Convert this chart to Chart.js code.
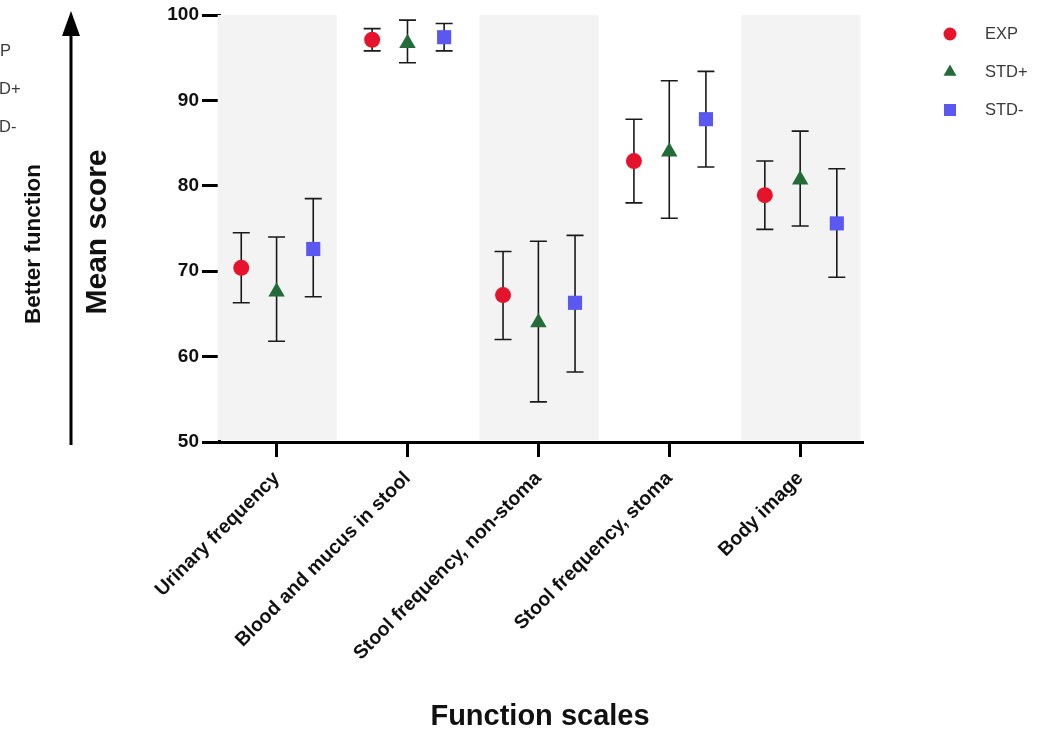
<!DOCTYPE html>
<html>
<head>
<meta charset="utf-8">
<script src="https://cdn.jsdelivr.net/npm/chart.js@4.4.1/dist/chart.umd.min.js"></script>
<style>
  body { margin: 0; background: #fff; }
  #wrap { width: 1053px; height: 730px; position: relative; }
</style>
</head>
<body>
<div id="wrap"><canvas id="myChart"></canvas></div>
<script>
const labels = ["Urinary frequency", "Blood and mucus in stool", "Stool frequency, non-stoma", "Stool frequency, stoma", "Body image"];
const yTicks = [50, 60, 70, 80, 90, 100];

const expMean = [70.4, 97.1, 67.2, 82.9, 78.9];
const expLow = [66.3, 95.8, 62.0, 78.0, 74.9];
const expHigh = [74.5, 98.4, 72.3, 87.8, 82.9];

const stdPlusMean = [67.6, 96.7, 64.0, 84.0, 80.7];
const stdPlusLow = [61.8, 94.4, 54.7, 76.2, 75.3];
const stdPlusHigh = [74.0, 99.4, 73.5, 92.3, 86.4];

const stdMinusMean = [72.6, 97.4, 66.3, 87.8, 75.6];
const stdMinusLow = [67.0, 95.8, 58.2, 82.2, 69.3];
const stdMinusHigh = [78.5, 99.0, 74.2, 93.4, 82.0];

const seriesNames = ["EXP", "STD+", "STD-"];
const seriesColors = ["#e5142c", "#236b38", "#5b58f2"];
const seriesStyles = ["circle", "triangle", "rect"];
const groupOffset = [-0.27, 0, 0.28];
const FONT = "'Liberation Sans', Arial, sans-serif";

function toPoints(values, k) {
  return values.map(function (v, i) {
    return { x: i + groupOffset[k], y: v };
  });
}

const errors = [
  { low: expLow, high: expHigh },
  { low: stdPlusLow, high: stdPlusHigh },
  { low: stdMinusLow, high: stdMinusHigh }
];

// grey bands behind every other category + error bars
const bandPlugin = {
  id: "bands",
  beforeDatasetsDraw: function (chart) {
    const ctx = chart.ctx;
    const x = chart.scales.x;
    const area = chart.chartArea;
    ctx.save();
    ctx.fillStyle = "#f3f3f3";
    for (let i = 0; i < labels.length; i += 2) {
      const l = x.getPixelForValue(i - 0.45);
      const r = x.getPixelForValue(i + 0.46);
      ctx.fillRect(l, area.top, r - l, area.bottom - area.top - 2);
    }
    ctx.restore();

    const y = chart.scales.y;
    ctx.save();
    ctx.strokeStyle = "#1a1a1a";
    ctx.lineWidth = 1.6;
    errors.forEach(function (e, k) {
      e.low.forEach(function (lo, i) {
        const px = x.getPixelForValue(i + groupOffset[k]);
        const top = y.getPixelForValue(e.high[i]);
        const bot = y.getPixelForValue(lo);
        ctx.beginPath();
        ctx.moveTo(px, top);
        ctx.lineTo(px, bot);
        ctx.moveTo(px - 8.5, top);
        ctx.lineTo(px + 8.5, top);
        ctx.moveTo(px - 8.5, bot);
        ctx.lineTo(px + 8.5, bot);
        ctx.stroke();
      });
    });
    ctx.restore();
  }
};

// titles, arrow and legends
const textPlugin = {
  id: "texts",
  afterDraw: function (chart) {
    const ctx = chart.ctx;
    ctx.save();
    ctx.fillStyle = "#111";

    ctx.font = "bold 29px " + FONT;
    ctx.textAlign = "center";
    ctx.textBaseline = "alphabetic";
    ctx.fillText("Function scales", 540, 725);

    ctx.save();
    ctx.translate(106, 232);
    ctx.rotate(-Math.PI / 2);
    ctx.font = "bold 30px " + FONT;
    ctx.fillText("Mean score", 0, 0);
    ctx.restore();

    ctx.save();
    ctx.translate(40, 244);
    ctx.rotate(-Math.PI / 2);
    ctx.font = "bold 22.5px " + FONT;
    ctx.fillText("Better function", 0, 0);
    ctx.restore();

    // arrow
    ctx.strokeStyle = "#000";
    ctx.lineWidth = 3;
    ctx.beginPath();
    ctx.moveTo(71, 445);
    ctx.lineTo(71, 30);
    ctx.stroke();
    ctx.beginPath();
    ctx.moveTo(71, 11);
    ctx.lineTo(62, 36);
    ctx.lineTo(80, 36);
    ctx.closePath();
    ctx.fillStyle = "#000";
    ctx.fill();

    // legend on the right
    ctx.font = "16.5px " + FONT;
    ctx.textAlign = "left";
    ctx.textBaseline = "middle";
    const legendRadius = [6.5, 7.5, 8.5];
    seriesNames.forEach(function (name, k) {
      const ly = 34 + k * 38;
      ctx.fillStyle = seriesColors[k];
      Chart.helpers.drawPoint(ctx, { pointStyle: seriesStyles[k], radius: legendRadius[k], borderWidth: 0 }, 950, ly);
      ctx.fillStyle = "#3a3a3a";
      ctx.fillText(name, 985, ly);
    });

    // cut-off copy of the legend at the left edge
    seriesNames.forEach(function (name, k) {
      ctx.fillStyle = "#3a3a3a";
      ctx.fillText(name, -22, 51 + k * 38);
    });
    ctx.restore();
  }
};

const pointRadius = [8, 9.5, 10];

const datasets = [expMean, stdPlusMean, stdMinusMean].map(function (vals, k) {
  return {
    label: seriesNames[k],
    data: toPoints(vals, k),
    pointStyle: seriesStyles[k],
    pointRadius: pointRadius[k],
    backgroundColor: seriesColors[k],
    borderColor: seriesColors[k],
    borderWidth: 0,
    showLine: false
  };
});

const config = {
  type: "scatter",
  data: { datasets: datasets },
  options: {
    responsive: true,
    maintainAspectRatio: false,
    animation: false,
    layout: { padding: { left: 0, right: 190, top: 15, bottom: 0 } },
    plugins: {
      legend: { display: false },
      tooltip: { enabled: false }
    },
    scales: {
      x: {
        type: "linear",
        min: -0.44,
        max: 4.48,
        afterBuildTicks: function (scale) {
          scale.ticks = labels.map(function (l, i) { return { value: i }; });
        },
        afterFit: function (scale) { scale.height = 288; },
        ticks: {
          minRotation: 45,
          maxRotation: 45,
          autoSkip: false,
          padding: 10,
          color: "#111",
          font: { family: FONT, size: 19.5, weight: "bold" },
          callback: function (v) { return labels[v]; }
        },
        grid: {
          drawOnChartArea: false,
          drawTicks: true,
          tickLength: 15,
          tickWidth: 3,
          tickColor: "#000"
        },
        border: { display: true, width: 3, color: "#000" }
      },
      y: {
        min: yTicks[0],
        max: yTicks[yTicks.length - 1],
        afterBuildTicks: function (scale) {
          scale.ticks = yTicks.map(function (v) { return { value: v }; });
        },
        afterFit: function (scale) { scale.width = 219; },
        ticks: {
          padding: 3,
          color: "#111",
          font: { family: FONT, size: 19, weight: "bold" }
        },
        grid: {
          drawOnChartArea: false,
          drawTicks: true,
          tickLength: 17,
          tickWidth: 3,
          tickColor: "#000"
        },
        border: { display: true, width: 3, color: "#000" }
      }
    }
  },
  plugins: [bandPlugin, textPlugin]
};

const myChart = new Chart(document.getElementById("myChart"), config);
</script>
</body>
</html>
